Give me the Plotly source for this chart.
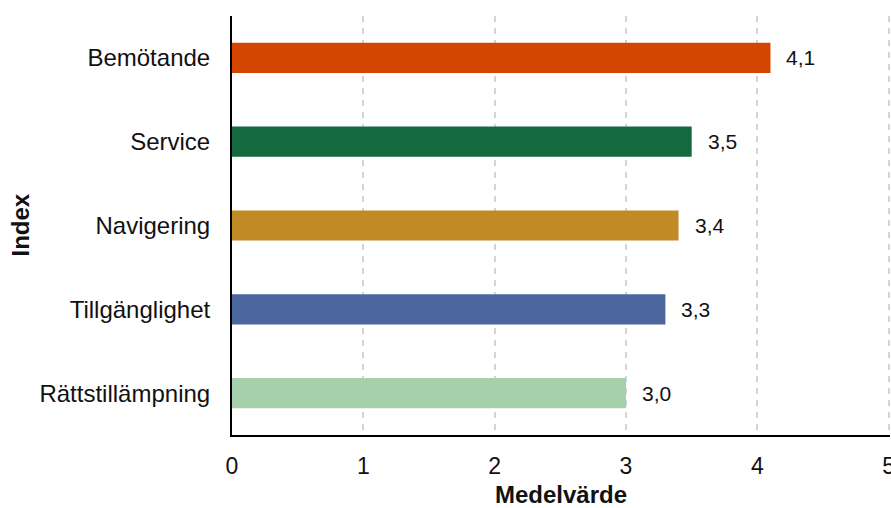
import plotly.graph_objects as go

# Mean score per index
categories = ["Bemötande", "Service", "Navigering", "Tillgänglighet", "Rättstillämpning"]
values = [4.1, 3.5, 3.4, 3.3, 3.0]
colors = ["#D44500", "#146A3E", "#C08A24", "#4C679E", "#A6D0AC"]
x_ticks = [0, 1, 2, 3, 4, 5]

FONT = "Liberation Sans, Arial, sans-serif"
MARGIN_L, MARGIN_R = 232, 1
PLOT_W = 891 - MARGIN_L - MARGIN_R

fig = go.Figure(
    go.Bar(
        x=values,
        y=categories,
        orientation="h",
        marker=dict(color=colors, line=dict(width=0)),
        width=0.36,
        hoverinfo="skip",
    )
)

# value labels just right of each bar, with a decimal comma
for cat, val in zip(categories, values):
    fig.add_annotation(
        x=val,
        y=cat,
        text=f"{val:.1f}".replace(".", ","),
        showarrow=False,
        xanchor="left",
        xshift=14,
        font=dict(family=FONT, size=21, color="#111111"),
    )

# vertical axis title, placed in the left margin
fig.add_annotation(
    xref="paper",
    yref="paper",
    x=(20 - MARGIN_L) / PLOT_W,
    y=0.5,
    text="<b>Index</b>",
    textangle=-90,
    showarrow=False,
    xanchor="center",
    yanchor="middle",
    font=dict(family=FONT, size=24, color="#111111"),
)

fig.update_layout(
    width=891,
    height=508,
    margin=dict(l=MARGIN_L, r=MARGIN_R, t=16, b=73),
    paper_bgcolor="white",
    plot_bgcolor="white",
    showlegend=False,
    font=dict(family=FONT, color="#111111"),
)

fig.update_xaxes(
    range=[0, 5.01],
    tickvals=x_ticks,
    ticktext=[str(t) for t in x_ticks],
    ticklabeloverflow="allow",
    automargin=False,
    showline=True,
    linecolor="black",
    linewidth=2,
    showgrid=True,
    gridcolor="#d4d4d4",
    gridwidth=1.5,
    griddash="6px,6px",
    zeroline=False,
    ticks="",
    ticklabelstandoff=9,
    tickfont=dict(family=FONT, size=23, color="#111111"),
    title=dict(
        text="<b>Medelvärde</b>",
        font=dict(family=FONT, size=24, color="#111111"),
        standoff=14,
    ),
)

fig.update_yaxes(
    categoryorder="array",
    categoryarray=categories,
    autorange="reversed",
    automargin=False,
    showline=True,
    linecolor="black",
    linewidth=2,
    showgrid=False,
    zeroline=False,
    ticks="",
    ticklabelstandoff=15,
    tickfont=dict(family=FONT, size=24, color="#111111"),
)

fig.write_html("out.html")
